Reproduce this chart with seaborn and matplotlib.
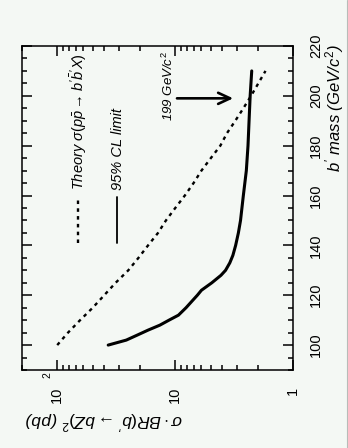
import numpy as np
import pandas as pd
import matplotlib
matplotlib.use("Agg")
import matplotlib.pyplot as plt
import seaborn as sns
from matplotlib.ticker import FixedLocator, NullFormatter
from matplotlib.lines import Line2D

# ---- data ----
theory_mass = [100, 105, 110, 115, 120, 125, 130, 135, 140, 145, 150, 155, 160,
               165, 170, 175, 180, 185, 190, 195, 200, 205, 210]
theory_xsec = [100, 81, 64, 50, 40, 32, 25, 20.5, 17, 14, 12, 10, 8.3,
               7.0, 6.0, 5.0, 4.15, 3.65, 3.1, 2.65, 2.28, 1.98, 1.72]

limit_mass = [100, 102, 104, 106, 108, 110, 112, 115, 118, 120, 122, 125, 128,
              130, 133, 136, 140, 145, 150, 160, 170, 180, 190, 200, 210]
limit_xsec = [37, 26, 21, 17, 13.5, 11.3, 9.4, 8.1, 7.1, 6.5, 6.0, 4.9, 4.1,
              3.75, 3.45, 3.25, 3.08, 2.92, 2.8, 2.65, 2.5, 2.42, 2.37, 2.32, 2.25]

mass_ticks = [100, 120, 140, 160, 180, 200, 220]
mass_ticklabels = ["100", "120", "140", "160", "180", "200", "220"]
mass_minor_ticks = list(range(90, 221, 5))
sigma_ticks = [100, 10, 1]
sigma_ticklabels = ["10", "10", "1"]
sigma_exponents = ["2", "", ""]
sigma_minor_ticks = [2, 3, 4, 5, 6, 7, 8, 9, 20, 30, 40, 50, 60, 70, 80, 90, 200]

legend_labels = [r"Theory $\sigma(p\bar{p}\rightarrow b'\bar{b}'X)$", "95% CL limit"]
arrow_mass = 199
arrow_from, arrow_to = 9.67, 3.23
arrow_label = r"199 GeV/$c^2$"
xlabel = r"$b'$ mass (GeV/$c^2$)"
ylabel = r"$\sigma\cdot BR(b'\rightarrow bZ)^2$ (pb)"

# ---- style ----
sns.set_style("ticks")
plt.rcParams["font.family"] = ["Liberation Sans", "DejaVu Sans"]
plt.rcParams["mathtext.fontset"] = "custom"
plt.rcParams["mathtext.rm"] = "Liberation Sans"
plt.rcParams["mathtext.it"] = "Liberation Sans:italic"
plt.rcParams["mathtext.bf"] = "Liberation Sans:bold"
plt.rcParams["mathtext.sf"] = "Liberation Sans"
for k in ["text.color", "axes.labelcolor", "xtick.color", "ytick.color",
          "axes.edgecolor"]:
    plt.rcParams[k] = "black"

bg = "#f4f8f4"
W, H = 348, 448
fig = plt.figure(figsize=(W / 100, H / 100), dpi=100, facecolor=bg)
L, R, T, B = 21.7, 293.3, 46.0, 370.0
ax = fig.add_axes([L / W, 1 - B / H, (R - L) / W, (B - T) / H])
ax.set_facecolor(bg)

df_theory = pd.DataFrame({"mass": theory_mass, "xsec": theory_xsec})
df_limit = pd.DataFrame({"mass": limit_mass, "xsec": limit_xsec})

sns.lineplot(data=df_theory, x="xsec", y="mass", sort=False, estimator=None,
             orient="y", ax=ax, color="black", lw=1.7,
             linestyle=(0, (1.5, 1.8)))
sns.lineplot(data=df_limit, x="xsec", y="mass", sort=False, estimator=None,
             orient="y", ax=ax, color="black", lw=2.2)

ax.set_xscale("log")
ax.set_xlim(200, 1)
ax.set_ylim(90, 220)
ax.set_xlabel("")
ax.set_ylabel("")

for s in ax.spines.values():
    s.set_visible(True)
    s.set_linewidth(1.1)
    s.set_color("black")

ax.xaxis.set_ticks_position("both")
ax.yaxis.set_ticks_position("both")

# mass axis (vertical, right labels)
ax.yaxis.set_major_locator(FixedLocator(mass_ticks))
ax.yaxis.set_minor_locator(FixedLocator(mass_minor_ticks))
ax.set_yticklabels(mass_ticklabels, rotation=90, va="center", ha="left",
                   fontsize=10.5)
ax.tick_params(axis="y", which="both", direction="in", left=True, right=True,
               labelleft=False, labelright=True, pad=11.5, width=1.1,
               color="black")
ax.tick_params(axis="y", which="major", length=7.2)
ax.tick_params(axis="y", which="minor", length=3.8)

# sigma axis (horizontal log, bottom labels)
ax.xaxis.set_major_locator(FixedLocator(sigma_ticks))
ax.xaxis.set_minor_locator(FixedLocator(sigma_minor_ticks))
ax.xaxis.set_minor_formatter(NullFormatter())
ax.set_xticklabels(sigma_ticklabels, rotation=90, ha="center", va="top",
                   fontsize=10.5)
ax.tick_params(axis="x", which="both", direction="in", top=True, bottom=True,
               labeltop=False, labelbottom=True, pad=12, width=1.1,
               color="black")
ax.tick_params(axis="x", which="major", length=7.2)
ax.tick_params(axis="x", which="minor", length=3.8)

for t, e in zip(sigma_ticks, sigma_exponents):
    if e:
        ax.annotate(e, xy=(t, 0), xycoords=("data", "axes fraction"),
                    xytext=(-7.2, -3.6), textcoords="offset points",
                    rotation=90, ha="center", va="center", fontsize=7.5)

# legend drawn in rotated frame
def ax_x(px):
    return (px - L) / (R - L)

def ax_y(py):
    return (B - py) / (B - T)

ax.add_line(Line2D([ax_x(77.5), ax_x(77.5)], [ax_y(243), ax_y(200)],
                   transform=ax.transAxes, color="black", lw=1.7,
                   linestyle=(0, (1.5, 1.8))))
ax.add_line(Line2D([ax_x(117), ax_x(117)], [ax_y(243), ax_y(197)],
                   transform=ax.transAxes, color="black", lw=1.3))
ax.text(ax_x(78.5), ax_y(190), legend_labels[0], transform=ax.transAxes,
        rotation=90, ha="center", va="bottom", fontsize=10.5, style="italic")
ax.text(ax_x(117.5), ax_y(190), legend_labels[1], transform=ax.transAxes,
        rotation=90, ha="center", va="bottom", fontsize=10.5, style="italic")

# arrow + label
ax.annotate("", xy=(arrow_to, arrow_mass), xytext=(arrow_from, arrow_mass),
            arrowprops=dict(arrowstyle="->,head_length=0.86,head_width=0.4",
                            mutation_scale=10, lw=1.9, color="black",
                            shrinkA=0, shrinkB=0))
ax.text(ax_x(168), ax_y(121), arrow_label, transform=ax.transAxes,
        rotation=90, ha="center", va="bottom", fontsize=9.5, style="italic")

# axis titles
fig.text(335 / W, 1 - 108 / H, xlabel, rotation=90, ha="center", va="center",
         fontsize=12, style="italic")
fig.text(104 / W, 1 - 420 / H, ylabel, rotation=180, ha="center", va="center",
         fontsize=12.5, style="italic")

# light frame line at right edge of picture
fig.add_artist(Line2D([346.5 / W, 346.5 / W], [0, 1], transform=fig.transFigure,
                      color="#b8bcb8", lw=0.8))

fig.savefig("out.png", dpi=100, facecolor=bg)
